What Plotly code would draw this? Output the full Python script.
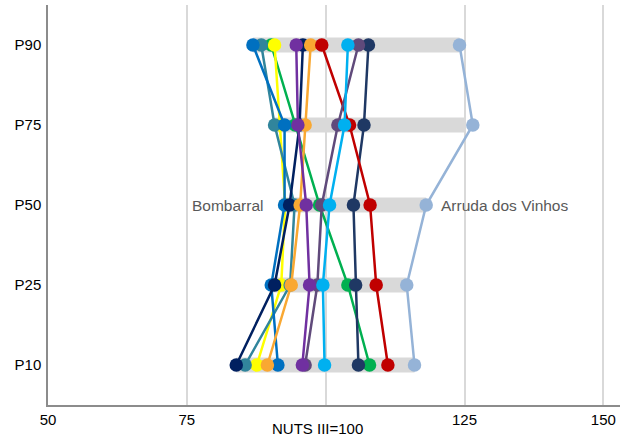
import plotly.graph_objects as go
import numpy as np

percentiles = ["P10", "P25", "P50", "P75", "P90"]

# values per municipality (NUTS III = 100), order P10, P25, P50, P75, P90
navy      = [83.9, 90.8, 93.5, 95.3, 95.9]
teal      = [85.5, 93.6, 94.4, 90.8, 88.4]
yellow    = [87.6, 92.0, 92.7, 91.7, 90.8]
orange    = [89.5, 93.8, 95.4, 96.3, 97.3]
blue      = [91.4, 90.2, 92.6, 92.6, 86.9]
purple    = [95.8, 97.1, 96.5, 95.0, 94.7]
slate     = [96.3, 98.5, 99.3, 102.2, 105.9]
cyan      = [99.8, 99.5, 100.7, 103.4, 104.0]
green     = [107.9, 104.0, 98.9, 94.5, 90.2]
darkblue  = [105.9, 105.4, 105.0, 106.9, 107.7]
red       = [111.2, 109.1, 108.0, 104.3, 99.3]
arruda    = [116.0, 114.6, 118.1, 126.5, 124.1]

# grey range bars
range_low  = [83.9, 90.2, 92.0, 90.8, 86.9]
range_high = [116.0, 114.6, 118.1, 125.0, 124.1]

series = [
    ("green", green, "#00B050"),
    ("yellow", yellow, "#FFFF00"),
    ("teal", teal, "#31859C"),
    ("blue", blue, "#0070C0"),
    ("navy", navy, "#002060"),
    ("darkblue", darkblue, "#1F3864"),
    ("orange", orange, "#F9A832"),
    ("red", red, "#C00000"),
    ("slate", slate, "#604A7B"),
    ("purple", purple, "#7030A0"),
    ("cyan", cyan, "#00B0F0"),
    ("Arruda dos Vinhos", arruda, "#95B3D7"),
]

FONT = "Liberation Sans, Arial"

fig = go.Figure()

lo = np.array(range_low)
hi = np.array(range_high)
fig.add_trace(go.Bar(
    y=percentiles, x=hi - lo, base=lo, orientation="h",
    width=0.19, marker=dict(color="#D9D9D9", line=dict(width=0)),
    showlegend=False, hoverinfo="skip"))

for name, vals, col in series:
    fig.add_trace(go.Scatter(
        x=vals, y=percentiles, mode="lines+markers", name=name,
        line=dict(color=col, width=2.5),
        marker=dict(color=col, size=13.5),
        showlegend=False))

fig.add_annotation(x=blue[2], y="P50", text="Bombarral", showarrow=False,
                   xanchor="right", xshift=-19,
                   font=dict(family=FONT, size=15.5, color="#595959"))
fig.add_annotation(x=arruda[2], y="P50", text="Arruda dos Vinhos", showarrow=False,
                   xanchor="left", xshift=13,
                   font=dict(family=FONT, size=15.5, color="#595959"))
fig.add_annotation(x=100, y=0, yref="paper", text="NUTS III=100", showarrow=False,
                   xanchor="center", yanchor="top", xshift=-8, yshift=-13,
                   font=dict(family=FONT, size=15, color="#000000"))

fig.update_layout(
    width=626, height=436,
    margin=dict(l=48, r=6, t=5, b=31),
    paper_bgcolor="white", plot_bgcolor="white",
    font=dict(family=FONT, size=15, color="#000000"),
    barmode="overlay",
    xaxis=dict(range=[50, 153], tickvals=[50, 75, 100, 125, 150],
               ticktext=["50", "75", "", "125", "150"],
               showgrid=True, gridcolor="#D9D9D9", gridwidth=1.5,
               showline=True, linecolor="#8C8C8C", linewidth=1.5,
               zeroline=False, ticks="", fixedrange=True),
    yaxis=dict(categoryorder="array", categoryarray=percentiles,
               range=[-0.5, 4.5], showgrid=False,
               showline=True, linecolor="#8C8C8C", linewidth=1.5,
               zeroline=False, ticks="", ticklabelstandoff=2, fixedrange=True),
)

fig.write_html("out.html", config={"displayModeBar": False},
               post_script="document.body.style.margin='0';")
